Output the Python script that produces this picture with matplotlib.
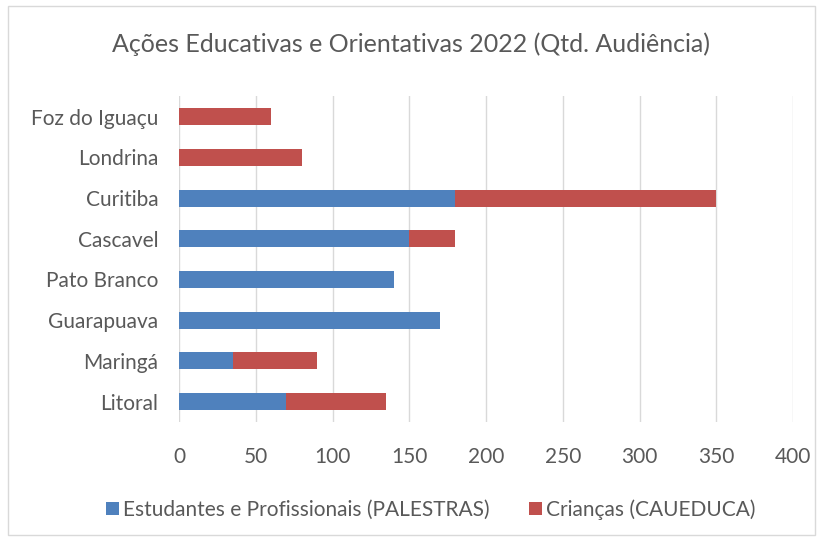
import matplotlib
matplotlib.use("Agg")
import matplotlib.pyplot as plt
from matplotlib.patches import Rectangle

cidades = ["Litoral", "Maringá", "Guarapuava", "Pato Branco", "Cascavel",
           "Curitiba", "Londrina", "Foz do Iguaçu"]
palestras = [70, 35, 170, 140, 150, 180, 0, 0]
caueduca = [65, 55, 0, 0, 30, 170, 80, 60]
xticks = [0, 50, 100, 150, 200, 250, 300, 350, 400]

azul = "#4F81BD"
vermelho = "#C0504D"
cinza = "#595959"

plt.rcParams["font.family"] = ["Lato", "DejaVu Sans"]

fig = plt.figure(figsize=(8.22, 5.41), dpi=100)
fig.patches.append(Rectangle((0.01, 0.011), 0.981, 0.978, transform=fig.transFigure,
                             fill=False, edgecolor="#D9D9D9", linewidth=1))
ax = fig.add_axes([0.2178, 0.22, 0.747, 0.602])

pos = range(len(cidades))
ax.barh(pos, palestras, height=0.42, color=azul,
        label="Estudantes e Profissionais (PALESTRAS)", zorder=3)
ax.barh(pos, caueduca, left=palestras, height=0.42, color=vermelho,
        label="Crianças (CAUEDUCA)", zorder=3)

ax.set_xlim(0, 400)
ax.set_ylim(-0.5, len(cidades) - 0.5)
ax.set_xticks(xticks)
ax.set_yticks(list(pos))
ax.set_yticklabels(cidades)
ax.tick_params(axis="both", length=0, labelsize=15, colors=cinza)
ax.tick_params(axis="x", pad=18)
ax.tick_params(axis="y", pad=15)
ax.grid(axis="x", color="#D9D9D9", linewidth=1, zorder=0)
for s in ax.spines.values():
    s.set_visible(False)

fig.suptitle("Ações Educativas e Orientativas 2022 (Qtd. Audiência)",
             y=0.94, fontsize=18, color=cinza)

ax.legend(loc="center", bbox_to_anchor=(0.41, -0.27), ncol=2, frameon=False,
          fontsize=15, labelcolor=cinza, handlelength=0.6, handleheight=0.6,
          handletextpad=0.2, columnspacing=1.9)

fig.savefig("out.png", dpi=100)
